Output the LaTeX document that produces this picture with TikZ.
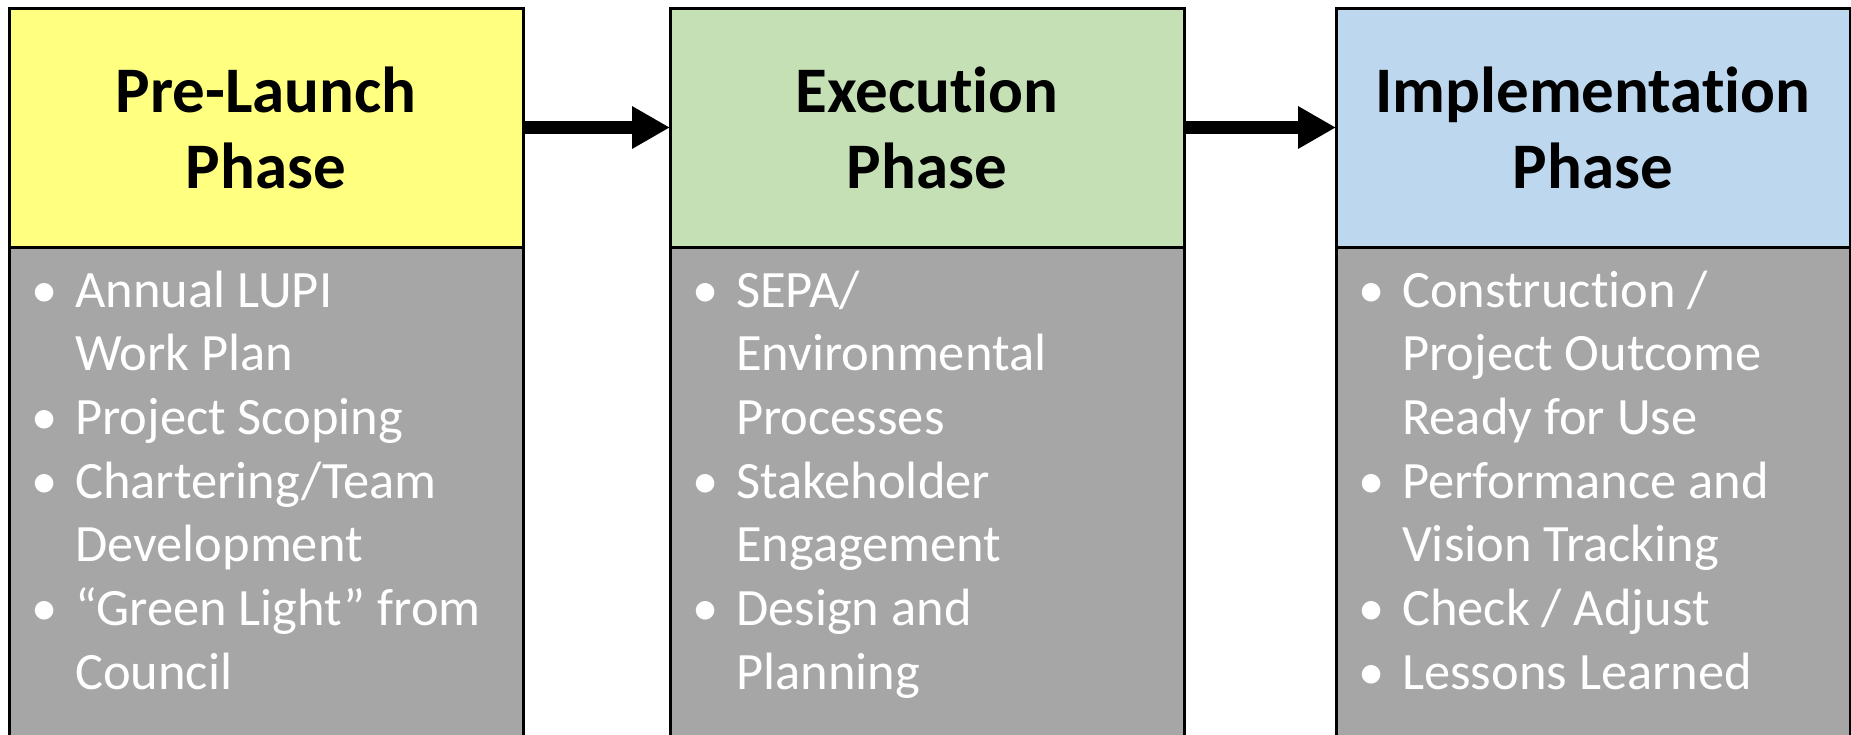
\documentclass[tikz,border=0pt]{standalone}
\usepackage{fontspec}
\setmainfont{Carlito}[Ligatures=NoCommon]
\usetikzlibrary{arrows.meta}
\definecolor{hyellow}{HTML}{FFFF80}
\definecolor{hgreen}{HTML}{C5E0B4}
\definecolor{hblue}{HTML}{BDD7EE}
\definecolor{bodygray}{HTML}{A6A6A6}
\newcommand\itembul{\makebox[36pt][l]{\hspace*{-8pt}\textbullet}}
\newcommand\itemind{\hspace*{36pt}}
\tikzset{
  headbox/.style={draw=black, line width=3pt, minimum width=514pt, minimum height=239pt,
    inner sep=0pt, outer sep=0pt, align=center, font=\fontsize{65}{76}\selectfont\bfseries},
  bodybox/.style={draw=black, fill=bodygray, line width=3pt, minimum width=514pt,
    minimum height=520pt, anchor=north, inner sep=0pt, outer sep=0pt},
  bodytext/.style={anchor=base west, text=white, inner sep=0pt, font=\fontsize{52.5}{63.7}\selectfont},
  flowarrow/.style={line width=13pt, -{Triangle[length=38pt,width=40pt]}}
}
\begin{document}
\begin{tikzpicture}[x=1pt, y=-1pt]
\useasboundingbox (0,0) rectangle (1851,734);
\clip (0,0) rectangle (1851,734);
% bodies
\node[bodybox] (b1) at (266,247) {};
\node[bodybox] (b2) at (927,247) {};
\node[bodybox] (b3) at (1593,247) {};
% headers
\node[headbox, fill=hyellow] (h1) at (266,127.5) {\vphantom{Pl}Pre-Launch\\Phase};
\node[headbox, fill=hgreen] (h2) at (927,127.5) {\vphantom{Pl}Execution\\Phase};
\node[headbox, fill=hblue] (h3) at (1593,127.5) {\vphantom{Pl}Implementation\\Phase};
% body texts
\node[bodytext] (t1) at ([shift={(30,60)}]b1.north west) {\begin{tabular}[t]{@{}l@{}}
\itembul Annual LUPI\\
\itemind Work Plan\\
\itembul Project Scoping\\
\itembul Chartering/Team\\
\itemind Development\\
\itembul “Green Light” from\\
\itemind Council
\end{tabular}};
\node[bodytext] (t2) at ([shift={(30,60)}]b2.north west) {\begin{tabular}[t]{@{}l@{}}
\itembul SEPA/\\
\itemind Environmental\\
\itemind Processes\\
\itembul Stakeholder\\
\itemind Engagement\\
\itembul Design and\\
\itemind Planning
\end{tabular}};
\node[bodytext] (t3) at ([shift={(30,60)}]b3.north west) {\begin{tabular}[t]{@{}l@{}}
\itembul Construction /\\
\itemind Project Outcome\\
\itemind Ready for Use\\
\itembul Performance and\\
\itemind Vision Tracking\\
\itembul Check / Adjust\\
\itembul Lessons Learned
\end{tabular}};
% arrows
\draw[flowarrow] (h1.east) -- (h2.west);
\draw[flowarrow] (h2.east) -- (h3.west);
\end{tikzpicture}
\end{document}
